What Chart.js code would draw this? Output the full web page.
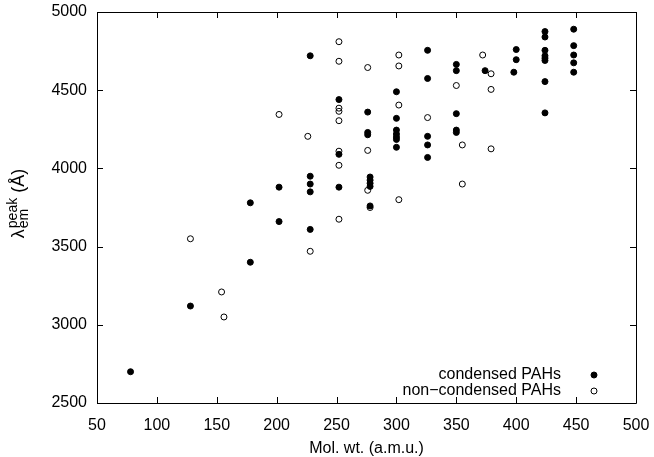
<!DOCTYPE html>
<html>
<head>
<meta charset="utf-8">
<script src="https://cdn.jsdelivr.net/npm/chart.js@4.4.0/dist/chart.umd.min.js"></script>
<style>
html, body { margin: 0; padding: 0; background: #fff; }
#wrap { width: 654px; height: 457px; }
</style>
</head>
<body>
<div id="wrap"><canvas id="chart" width="654" height="457"></canvas></div>
<script>
// data (mol. wt. vs peak emission wavelength)
const condensedX = [78, 128, 178, 178, 202, 202, 228, 228, 228, 228, 228,
    252, 252, 252, 276, 276, 276, 278, 278, 278, 278, 278,
    300, 300, 300, 300, 300, 300, 300, 326, 326, 326, 326, 326,
    350, 350, 350, 350, 350, 374, 398, 400, 400,
    424, 424, 424, 424, 424, 424, 424, 424, 448, 448, 448, 448, 448];
const condensedY = [2700, 3120, 3400, 3780, 3880, 3660, 4720, 3950, 3900, 3850, 3610,
    4440, 4090, 3880, 4360, 4230, 4215, 3945, 3925, 3905, 3885, 3760,
    4490, 4320, 4245, 4220, 4200, 4185, 4135, 4755, 4575, 4205, 4150, 4070,
    4665, 4625, 4350, 4245, 4230, 4625, 4615, 4760, 4695,
    4875, 4840, 4755, 4720, 4705, 4690, 4555, 4355, 4890, 4785, 4725, 4675, 4615];

const nonCondensedX = [128, 154, 156, 202, 226, 228,
    252, 252, 252, 252, 252, 252, 252, 252, 276, 276, 276, 278,
    302, 302, 302, 302, 326, 350, 355, 355, 372, 379, 379, 379];
const nonCondensedY = [3550, 3210, 3050, 4345, 4205, 3470,
    4810, 4685, 4385, 4365, 4305, 4110, 4020, 3675, 4645, 4115, 3860, 3750,
    4725, 4655, 4405, 3800, 4325, 4530, 4150, 3900, 4725, 4605, 4505, 4125];

const xTicks = [50, 100, 150, 200, 250, 300, 350, 400, 450, 500];
const yTicks = [2500, 3000, 3500, 4000, 4500, 5000];

const seriesLabels = ["condensed PAHs", "non\u2212condensed PAHs"];

const FONT = "Liberation Sans, Arial, Helvetica, sans-serif";

function toPoints(xs, ys) {
    return xs.map(function (x, i) {
        return { x: x, y: ys[i] };
    });
}

// gnuplot style frame with inward ticks on all four sides
const framePlugin = {
    id: "frame",
    afterDraw: function (chart) {
        const ctx = chart.ctx;
        const a = chart.chartArea;
        const xs = chart.scales.x;
        const ys = chart.scales.y;
        const len = 6;

        ctx.save();
        ctx.strokeStyle = "#000";
        ctx.lineWidth = 1;
        ctx.beginPath();
        ctx.rect(a.left + 0.5, a.top + 0.5, a.right - a.left, a.bottom - a.top);

        xTicks.forEach(function (v) {
            const px = Math.round(xs.getPixelForValue(v)) + 0.5;
            ctx.moveTo(px, a.bottom);
            ctx.lineTo(px, a.bottom - len);
            ctx.moveTo(px, a.top);
            ctx.lineTo(px, a.top + len);
        });

        yTicks.forEach(function (v) {
            const py = Math.round(ys.getPixelForValue(v)) + 0.5;
            ctx.moveTo(a.left, py);
            ctx.lineTo(a.left + len, py);
            ctx.moveTo(a.right, py);
            ctx.lineTo(a.right - len, py);
        });
        ctx.stroke();
        ctx.restore();
    }
};

// key in the lower right corner: text first, symbol after it
const keyPlugin = {
    id: "key",
    afterDraw: function (chart) {
        const ctx = chart.ctx;
        const a = chart.chartArea;

        ctx.save();
        ctx.font = "16px " + FONT;
        ctx.textAlign = "right";
        ctx.textBaseline = "middle";
        ctx.fillStyle = "#000";

        chart.data.datasets.forEach(function (ds, i) {
            const y = a.bottom - 28 + i * 16;
            ctx.fillText(ds.label, a.right - 75, y);

            ctx.beginPath();
            ctx.arc(a.right - 42, y, ds.pointRadius, 0, Math.PI * 2);
            if (ds.backgroundColor !== "rgba(0,0,0,0)") {
                ctx.fillStyle = ds.backgroundColor;
                ctx.fill();
            }
            ctx.strokeStyle = ds.borderColor;
            ctx.lineWidth = ds.borderWidth;
            ctx.stroke();
            ctx.fillStyle = "#000";
        });
        ctx.restore();
    }
};

// y title: lambda with "peak" above and "em" below, then (Å)
const yTitlePlugin = {
    id: "yTitle",
    afterDraw: function (chart) {
        const ctx = chart.ctx;
        const big = "18px " + FONT;
        const small = "14px " + FONT;

        ctx.save();
        ctx.font = big;
        const wLambda = ctx.measureText("\u03bb").width;
        const wRest = ctx.measureText(" (\u00c5)").width;
        ctx.font = small;
        const wScript = Math.max(ctx.measureText("peak").width, ctx.measureText("em").width);
        const total = wLambda + wScript + wRest;

        ctx.translate(24, 204);
        ctx.rotate(-Math.PI / 2);
        ctx.fillStyle = "#000";
        ctx.textBaseline = "alphabetic";
        ctx.textAlign = "left";

        let x = -total / 2;
        ctx.font = big;
        ctx.fillText("\u03bb", x, 0);
        x += wLambda + 1;

        ctx.font = small;
        ctx.fillText("peak", x, -7);
        ctx.fillText("em", x, 4);
        x += wScript;

        ctx.font = big;
        ctx.fillText(" (\u00c5)", x, 0);
        ctx.restore();
    }
};

function plainNumber(value) {
    return String(value);
}

new Chart(document.getElementById("chart"), {
    type: "scatter",
    data: {
        datasets: [
            {
                label: seriesLabels[0],
                data: toPoints(condensedX, condensedY),
                pointRadius: 3,
                backgroundColor: "#000",
                borderColor: "#000",
                borderWidth: 1
            },
            {
                label: seriesLabels[1],
                data: toPoints(nonCondensedX, nonCondensedY),
                pointRadius: 3,
                backgroundColor: "rgba(0,0,0,0)",
                borderColor: "#000",
                borderWidth: 1
            }
        ]
    },
    options: {
        responsive: false,
        animation: false,
        devicePixelRatio: 1,
        layout: {
            padding: { left: 0, right: 18, top: 12, bottom: 0 }
        },
        plugins: {
            legend: { display: false },
            tooltip: { enabled: false }
        },
        scales: {
            x: {
                type: "linear",
                min: 50,
                max: 500,
                afterBuildTicks: function (scale) {
                    scale.ticks = xTicks.map(function (v) { return { value: v }; });
                },
                afterFit: function (scale) {
                    scale.height = 54;
                    // labels fit inside the layout padding, no extra room needed
                    scale.paddingLeft = 0;
                    scale.paddingRight = 0;
                },
                grid: { display: false, drawTicks: false },
                border: { display: false },
                ticks: {
                    padding: 13,
                    color: "#000",
                    font: { family: FONT, size: 16 },
                    maxRotation: 0,
                    callback: plainNumber
                },
                title: {
                    display: true,
                    text: "Mol. wt. (a.m.u.)",
                    color: "#000",
                    font: { family: FONT, size: 16 },
                    padding: { top: 0, bottom: -1 }
                }
            },
            y: {
                type: "linear",
                min: 2500,
                max: 5000,
                afterBuildTicks: function (scale) {
                    scale.ticks = yTicks.map(function (v) { return { value: v }; });
                },
                afterFit: function (scale) {
                    scale.width = 97;
                    scale.paddingTop = 0;
                    scale.paddingBottom = 0;
                },
                grid: { display: false, drawTicks: false },
                border: { display: false },
                ticks: {
                    padding: 10,
                    color: "#000",
                    font: { family: FONT, size: 16 },
                    callback: plainNumber
                }
            }
        }
    },
    plugins: [framePlugin, keyPlugin, yTitlePlugin]
});
</script>
</body>
</html>
